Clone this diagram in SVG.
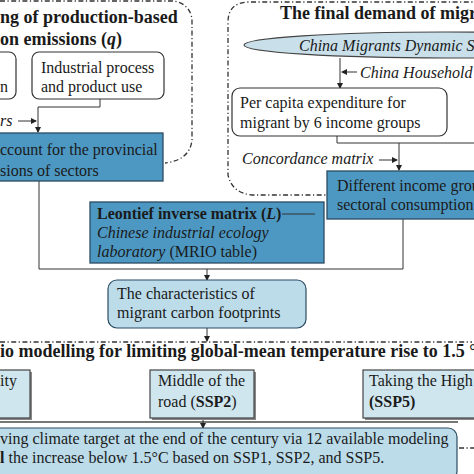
<svg xmlns="http://www.w3.org/2000/svg" width="474" height="474" viewBox="0 0 474 474">
<style>
text{font-family:"Liberation Serif","Times New Roman",serif;font-size:16px;fill:#1a1a1a}
.t{font-size:18px;font-weight:bold}
.b{font-weight:bold}
.i{font-style:italic}
.dd{fill:none;stroke:#333;stroke-width:1.3;stroke-dasharray:5 2.5 1.2 2.5}
.ln{fill:none;stroke:#333;stroke-width:1}
.ar{fill:none;stroke:#333;stroke-width:1;marker-end:url(#ah)}
.dark{fill:#4d98c3;stroke:#2b4b63;stroke-width:1.3}
.wh{fill:#fff;stroke:#333;stroke-width:1.2}
.lt{fill:#bcdcea;stroke:#2b4b63;stroke-width:1.2}
.lt2{fill:#d0e6ef;stroke:#444;stroke-width:1.2}
.sh{fill:#888}
</style>
<defs>
<marker id="ah" viewBox="0 0 6 6" refX="5" refY="3" markerWidth="6" markerHeight="6" markerUnits="userSpaceOnUse" orient="auto">
<path d="M0,0 L6,3 L0,6 Z" fill="#222"/>
</marker>
</defs>
<rect width="474" height="474" fill="#fff"/>

<g id="containers">
<path class="dd" d="M0,1 H172 A20,20 0 0 1 192,21 V140 Q190,160 165,163"/>
<path class="dd" d="M480,2 H248 Q228,3 228,22 V175 Q232,193 252,195 H327"/>
<path class="dd" d="M0,342 H472"/>
<path class="dd" d="M459,448 H474"/>
</g>

<g id="connectors">
<path class="ar" d="M100,99 V107 H38 V132"/>
<path class="ar" d="M18,121 H36"/>
<path class="ln" d="M39,181 V269 H403 V219"/>
<path class="ar" d="M207,269 V280"/>
<path class="ar" d="M207,328 V341"/>
<path class="ar" d="M340,58 V88"/>
<path class="ar" d="M357,72 H342"/>
<path class="ln" d="M337,136 V143 H480"/>
<path class="ar" d="M399,143 V170"/>
<path class="ar" d="M379,160 H397"/>
<path fill="none" stroke="#777" stroke-width="2" d="M0,422 H458"/>
<path class="ar" d="M203,418 V428"/>
</g>

<g id="title-left">
<text class="t" x="0" y="23">ng of production-based</text>
<text class="t" x="0" y="45">on emissions (<tspan class="i">q</tspan>)</text>
</g>

<g id="node-energy">
<rect class="wh" x="-10" y="52" width="26" height="47" rx="7"/>
<text x="0" y="92">n</text>
</g>

<g id="node-industrial">
<rect class="wh" x="32" y="52" width="132" height="47" rx="7"/>
<text x="41" y="73">Industrial process</text>
<text x="41" y="92">and product use</text>
</g>

<g id="label-factors">
<text class="i" x="0" y="126">rs</text>
</g>

<g id="node-account">
<rect class="dark" x="-5" y="133" width="168" height="48"/>
<text x="0" y="155">ccount for the provincial</text>
<text x="0" y="176">sions of sectors</text>
</g>

<g id="title-right">
<text class="t" x="280" y="19">The final demand of migr</text>
</g>

<g id="node-cmds">
<ellipse cx="445" cy="45" rx="201" ry="13" fill="#c9e0ea" stroke="#444" stroke-width="1.2"/>
<text class="i" x="299" y="51">China Migrants Dynamic S</text>
</g>

<g id="label-household">
<text class="i" x="360" y="78">China Household</text>
</g>

<g id="node-percapita">
<rect class="wh" x="232" y="88" width="215" height="48" rx="8"/>
<text x="240" y="108">Per capita expenditure for</text>
<text x="240" y="128">migrant by 6 income groups</text>
</g>

<g id="label-concordance">
<text class="i" x="242" y="164">Concordance matrix</text>
</g>

<g id="node-different">
<rect class="dark" x="327" y="171" width="160" height="48"/>
<text x="337" y="191">Different income grou</text>
<text x="337" y="210">sectoral consumption</text>
</g>

<g id="node-leontief">
<rect class="dark" x="90" y="202" width="234" height="61"/>
<text class="b" x="97" y="219">Leontief inverse matrix (<tspan class="i">L</tspan>)</text>
<path class="ln" d="M282,214 H315"/>
<text x="97" y="238"><tspan class="i">Chinese industrial ecology</tspan></text>
<text x="97" y="257"><tspan class="i">laboratory</tspan> (MRIO table)</text>
</g>

<g id="node-characteristics">
<rect class="lt" x="108" y="280" width="198" height="48" rx="9"/>
<text x="117" y="299">The characteristics of</text>
<text x="117" y="318">migrant carbon footprints</text>
</g>

<g id="title-bottom">
<text class="t" x="0" y="357">io modelling for limiting global-mean temperature rise to 1.5 °</text>
</g>

<g id="node-ssp1">
<rect class="sh" x="-8" y="372" width="40" height="48"/>
<rect class="lt2" x="-10" y="370" width="40" height="48"/>
<text x="0" y="386">ity</text>
</g>

<g id="node-ssp2">
<rect class="sh" x="152" y="372" width="104" height="48"/>
<rect class="lt2" x="150" y="370" width="104" height="48"/>
<text x="158" y="386">Middle of the</text>
<text x="158" y="407">road (<tspan class="b">SSP2</tspan>)</text>
</g>

<g id="node-ssp5">
<rect class="sh" x="365" y="372" width="120" height="48"/>
<rect class="lt2" x="363" y="370" width="120" height="48"/>
<text x="369" y="386">Taking the High</text>
<text x="369" y="407"><tspan class="b">(SSP5)</tspan></text>
</g>

<g id="node-target">
<rect class="lt" x="-10" y="428" width="467" height="52" rx="9"/>
<text x="0" y="444">ving climate target at the end of the century via 12 available modeling</text>
<text x="0" y="463"><tspan class="b">l</tspan> the increase below 1.5°C based on SSP1, SSP2, and SSP5.</text>
</g>
</svg>
